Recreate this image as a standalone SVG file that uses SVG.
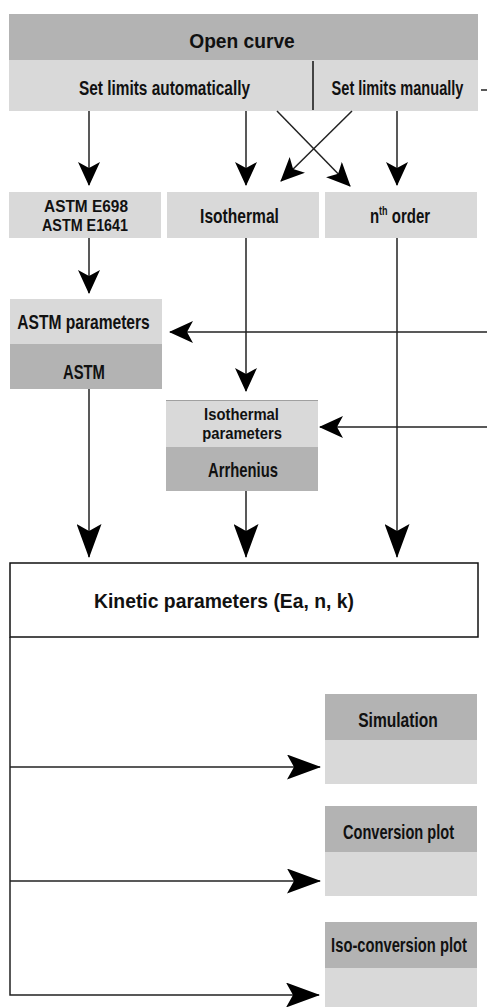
<svg xmlns="http://www.w3.org/2000/svg" width="487" height="1007" viewBox="0 0 487 1007">
<style>
.dark{fill:#b3b3b3}
.light{fill:#d9d9d9}
.t{font-family:"Liberation Sans",Arial,sans-serif;font-weight:bold;font-size:20px;fill:#111;text-anchor:middle}
.s17{font-size:17px}
.ln{fill:none;stroke:#222;stroke-width:1.5}
</style>
<defs>
<marker id="arrS" viewBox="0 0 24 22" refX="23" refY="11" markerWidth="24" markerHeight="22" orient="auto" markerUnits="userSpaceOnUse"><path d="M0,0 L24,11 L0,22 L6,11 z" fill="#000"/></marker>
<marker id="arrL" viewBox="0 0 34 25" refX="33" refY="12.5" markerWidth="34" markerHeight="25" orient="auto" markerUnits="userSpaceOnUse"><path d="M0,0 L34,12.5 L0,25 L7,12.5 z" fill="#000"/></marker>
</defs>
<rect width="487" height="1007" fill="#fff"/>

<g id="open-curve">
<rect class="dark" x="9" y="14" width="469" height="46"/>
<text class="t" transform="translate(242,48) scale(0.96,1)">Open curve</text>
</g>
<g id="set-limits-auto">
<rect class="light" x="9" y="60" width="304" height="51"/>
<text class="t" transform="translate(164.5,95) scale(0.77,1)">Set limits automatically</text>
</g>
<g id="set-limits-manual">
<rect class="light" x="313" y="60" width="165" height="51"/>
<line x1="313" y1="61" x2="313" y2="110" stroke="#111" stroke-width="1.5"/>
<text class="t" transform="translate(397.5,95) scale(0.728,1)">Set limits manually</text>
</g>
<g id="astm-e698">
<rect class="light" x="9" y="192" width="152" height="46"/>
<text class="t s17" transform="translate(86,212) scale(0.907,1)">ASTM E698</text>
<text class="t s17" transform="translate(85,231) scale(0.843,1)">ASTM E1641</text>
</g>
<g id="isothermal">
<rect class="light" x="167" y="192" width="152" height="46"/>
<text class="t" transform="translate(239.5,223) scale(0.78,1)">Isothermal</text>
</g>
<g id="nth-order">
<rect class="light" x="325" y="192" width="152" height="46"/>
<text class="t" transform="translate(400,223) scale(0.75,1)">n<tspan font-size="12" dy="-8">th</tspan><tspan dy="8"> order</tspan></text>
</g>
<g id="astm-params">
<rect class="light" x="10" y="299" width="152" height="45"/>
<rect class="dark" x="10" y="344" width="152" height="45"/>
<text class="t" transform="translate(83.5,329) scale(0.78,1)">ASTM parameters</text>
<text class="t" transform="translate(84,379) scale(0.74,1)">ASTM</text>
</g>
<g id="iso-params">
<rect class="light" x="166" y="400" width="152" height="47"/>
<rect class="dark" x="166" y="447" width="152" height="44"/>
<line x1="166" y1="400.5" x2="318" y2="400.5" stroke="#a0a0a0" stroke-width="1"/>
<text class="t s17" transform="translate(241.5,420) scale(0.87,1)">Isothermal</text>
<text class="t s17" transform="translate(242,439) scale(0.87,1)">parameters</text>
<text class="t" transform="translate(243,477) scale(0.74,1)">Arrhenius</text>
</g>
<g id="kinetic">
<rect x="10" y="563" width="468" height="74" fill="#fff" stroke="#111" stroke-width="1.5"/>
<text class="t" transform="translate(224,608) scale(0.967,1)">Kinetic parameters (Ea, n, k)</text>
</g>
<g id="simulation">
<rect class="dark" x="325" y="694" width="152" height="46"/>
<rect class="light" x="325" y="740" width="152" height="44"/>
<text class="t" transform="translate(398,727) scale(0.78,1)">Simulation</text>
</g>
<g id="conversion">
<rect class="dark" x="325" y="806" width="152" height="46"/>
<rect class="light" x="325" y="852" width="152" height="44"/>
<text class="t" transform="translate(398.5,839) scale(0.73,1)">Conversion plot</text>
</g>
<g id="iso-conversion">
<rect class="dark" x="325" y="922" width="152" height="46"/>
<rect class="light" x="325" y="968" width="152" height="39"/>
<text class="t" transform="translate(399,952) scale(0.737,1)">Iso-conversion plot</text>
</g>

<g id="connectors">
<line class="ln" x1="481" y1="90" x2="487" y2="90"/>
<line class="ln" x1="89" y1="111" x2="89" y2="185" marker-end="url(#arrS)"/>
<line class="ln" x1="246" y1="111" x2="246" y2="185" marker-end="url(#arrS)"/>
<line class="ln" x1="397" y1="111" x2="397" y2="185" marker-end="url(#arrS)"/>
<line class="ln" x1="277" y1="111" x2="350" y2="186" marker-end="url(#arrS)"/>
<line class="ln" x1="352" y1="111" x2="281" y2="181" marker-end="url(#arrS)"/>
<line class="ln" x1="89" y1="238" x2="89" y2="293" marker-end="url(#arrS)"/>
<line class="ln" x1="487" y1="332" x2="170" y2="332" marker-end="url(#arrS)"/>
<line class="ln" x1="246" y1="238" x2="246" y2="391" marker-end="url(#arrS)"/>
<line class="ln" x1="487" y1="427" x2="320" y2="427" marker-end="url(#arrS)"/>
<line class="ln" x1="89" y1="389" x2="89" y2="557" marker-end="url(#arrL)"/>
<line class="ln" x1="246" y1="491" x2="246" y2="557" marker-end="url(#arrL)"/>
<line class="ln" x1="397" y1="238" x2="397" y2="557" marker-end="url(#arrL)"/>
<path class="ln" d="M10,637 V995 H319" marker-end="url(#arrL)"/>
<line class="ln" x1="10" y1="767" x2="320" y2="767" marker-end="url(#arrL)"/>
<line class="ln" x1="10" y1="881" x2="320" y2="881" marker-end="url(#arrL)"/>
</g>
</svg>
